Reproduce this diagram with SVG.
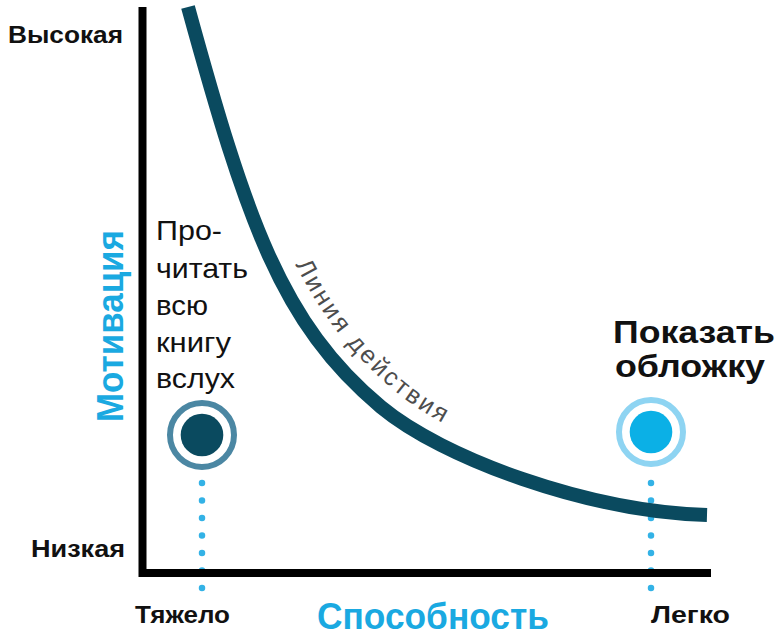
<svg xmlns="http://www.w3.org/2000/svg" xmlns:xlink="http://www.w3.org/1999/xlink" width="779" height="637" viewBox="0 0 779 637">
  <style>
    text { font-family: "Liberation Sans", Arial, sans-serif; }
    .lbl { font-size: 23px; font-weight: bold; fill: #111; }
    .axis-title { font-size: 36px; font-weight: bold; fill: #1aa9e1; }
    .task { font-size: 28px; fill: #111; }
    .task-b { font-size: 32px; font-weight: bold; fill: #111; }
    .axis { stroke: #000; stroke-width: 8; fill: none; }
    .dots { stroke: #33b2e6; stroke-width: 6.5; stroke-linecap: round; stroke-dasharray: 0 17.5; fill: none; }
    .curve { stroke: #0a4a5f; stroke-width: 14; fill: none; stroke-linecap: butt; }
  </style>
  <defs>
    <path id="actionPath" d="M 188 7 C 246.3 219, 280.9 323.8, 381 407 C 442.6 458.2, 587 511.4, 707 515"/>
  </defs>
  <rect width="779" height="637" fill="#fff"/>

  <g id="connectors">
    <line class="dots" x1="202" y1="483" x2="202" y2="590"/>
    <line class="dots" x1="651" y1="483" x2="651" y2="590"/>
  </g>

  <g id="axes">
    <path class="axis" d="M 142.5 7 V 573 H 711"/>
  </g>

  <g id="action-line">
    <use xlink:href="#actionPath" class="curve"/>
    <g transform="translate(15,-15)">
      <text font-size="25" fill="#4d4d4d" letter-spacing="2.6"><textPath xlink:href="#actionPath" startOffset="288">Линия действия</textPath></text>
    </g>
  </g>

  <g id="y-labels">
    <text class="lbl" x="123" y="43" text-anchor="end" textLength="115" lengthAdjust="spacingAndGlyphs">Высокая</text>
    <text class="lbl" x="125" y="557" text-anchor="end" textLength="94" lengthAdjust="spacingAndGlyphs">Низкая</text>
    <text class="axis-title" transform="translate(123,326) rotate(-90)" text-anchor="middle" font-size="35" textLength="192" lengthAdjust="spacingAndGlyphs">Мотивация</text>
  </g>

  <g id="x-labels">
    <text class="lbl" x="135" y="623" textLength="95" lengthAdjust="spacingAndGlyphs">Тяжело</text>
    <text class="lbl" x="651" y="623" textLength="79" lengthAdjust="spacingAndGlyphs">Легко</text>
    <text class="axis-title" x="317" y="629" font-size="33" textLength="232" lengthAdjust="spacingAndGlyphs">Способность</text>
  </g>

  <g id="node-read-book">
    <circle cx="202" cy="435" r="32" fill="none" stroke="#4b87a3" stroke-width="6"/>
    <circle cx="202" cy="435" r="21.3" fill="#0a4a5f"/>
    <text class="task" x="156" y="240" textLength="66" lengthAdjust="spacingAndGlyphs">Про-</text>
    <text class="task" x="156" y="278" textLength="92" lengthAdjust="spacingAndGlyphs">читать</text>
    <text class="task" x="156" y="315" textLength="52" lengthAdjust="spacingAndGlyphs">всю</text>
    <text class="task" x="156" y="352" textLength="75" lengthAdjust="spacingAndGlyphs">книгу</text>
    <text class="task" x="156" y="388" textLength="79" lengthAdjust="spacingAndGlyphs">вслух</text>
  </g>

  <g id="node-show-cover">
    <circle cx="651" cy="432" r="32" fill="none" stroke="#8ed4f2" stroke-width="6"/>
    <circle cx="651" cy="432" r="21.3" fill="#0bb0e6"/>
    <text class="task-b" x="613" y="343" textLength="162" lengthAdjust="spacingAndGlyphs">Показать</text>
    <text class="task-b" x="615" y="377" textLength="150" lengthAdjust="spacingAndGlyphs">обложку</text>
  </g>
</svg>
